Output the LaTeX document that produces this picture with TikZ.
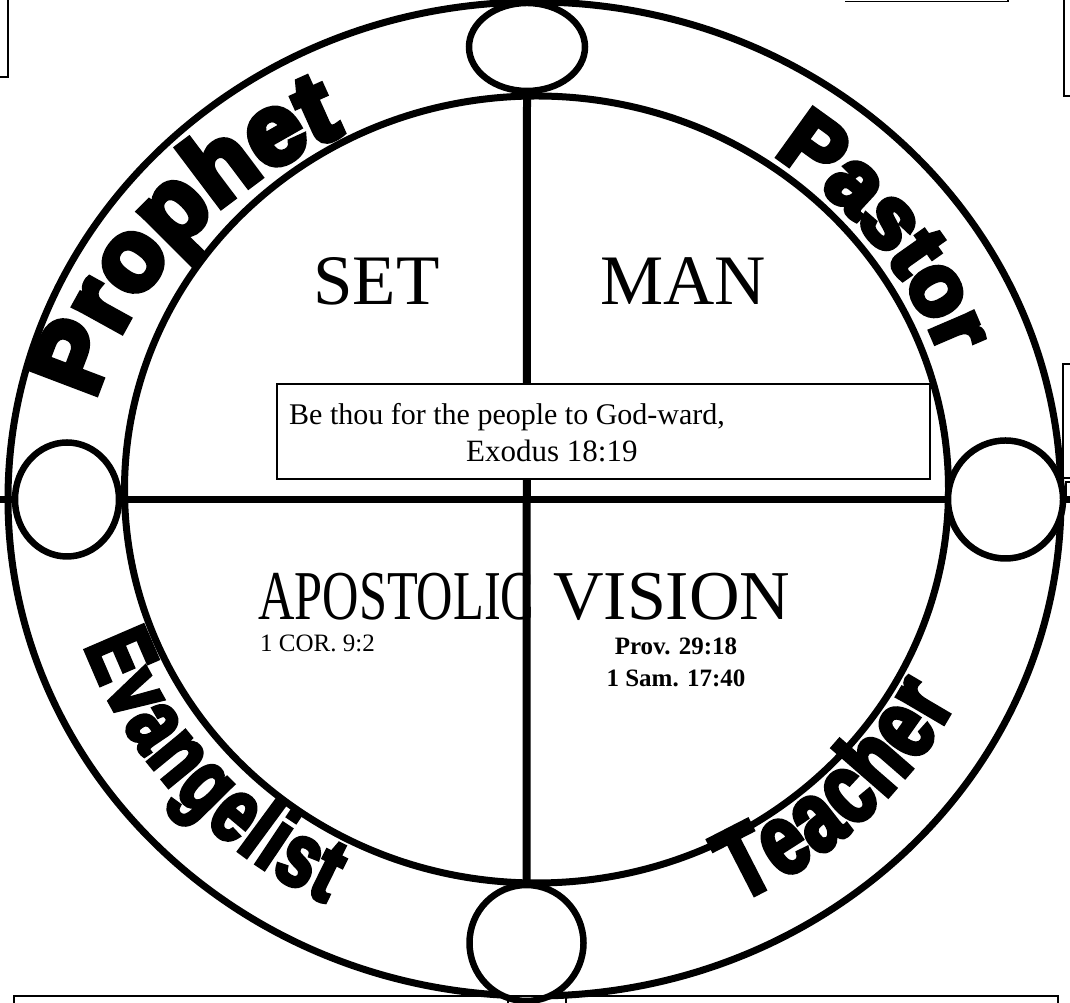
\documentclass[tikz,border=0pt]{standalone}
\usepackage{fontspec}
\setmainfont{Liberation Serif}
\newfontfamily\heavyfont[FakeBold=7]{Liberation Sans}
\newfontfamily\condfont[FakeBold=4.5,FakeStretch=0.74]{Liberation Sans}
\usetikzlibrary{decorations.text,shapes.geometric,calc}
\newcommand\fprophet{\heavyfont\bfseries\fontsize{100pt}{100pt}\selectfont}
\newcommand\fpastor{\heavyfont\bfseries\fontsize{86pt}{86pt}\selectfont}
\newcommand\fevang{\condfont\bfseries\fontsize{91pt}{91pt}\selectfont}
\newcommand\fteach{\condfont\bfseries\fontsize{101pt}{101pt}\selectfont}
\tikzset{
  ring/.style={line width=7pt},
  knob/.style={draw, ellipse, line width=6.5pt, fill=white, inner sep=0pt},
  frameline/.style={line width=1.6pt},
  lbl/.style={inner sep=0pt, anchor=base west},
  arctext/.style={decorate, decoration={text along path, text align=fit to path, text={#1}}},
}
\begin{document}
\begin{tikzpicture}[x=1pt,y=1pt]
\useasboundingbox[fill=white] (0,0) rectangle (1070,1003);
\coordinate (O) at (534.5,504);
\coordinate (I) at (536.5,513.5);
\coordinate (T) at (535,509);
\coordinate (hl) at (0,503.5);
\coordinate (hr) at (1070,503.5);
% cross bar
\draw[ring] (hl) -- (hr);
% rings
\draw[ring] (O) ellipse[x radius=526.5pt, y radius=497pt];
\draw[ring] (I) ellipse[x radius=412pt, y radius=393.5pt];
% knobs
\node[knob, minimum width=116pt, minimum height=88pt] (ctop) at (527,956) {};
\node[knob, minimum width=114pt, minimum height=116pt] (cbot) at (526.5,60) {};
\node[knob, minimum width=104pt, minimum height=114pt] (cleft) at (67,503.5) {};
\node[knob, minimum width=115pt, minimum height=118pt] (cright) at (1005.5,503.5) {};
\draw[line width=8pt] (ctop.south) -- (cbot.north);
% box
\node[draw, fill=white, frameline, minimum width=653pt, minimum height=95pt, inner sep=0pt] (box) at (603.5,571.5) {};
\node[lbl, font=\fontsize{30pt}{36pt}\selectfont] (l1) at (289,578) {Be thou for the people to God-ward,};
\node[lbl, font=\fontsize{31pt}{36pt}\selectfont] (l2) at (466,541.5) {Exodus 18:19};
% quadrant words
\node[lbl, font=\fontsize{71pt}{71pt}\selectfont] (set) at (313,698) {SET};
\node[lbl, font=\fontsize{71pt}{71pt}\selectfont] (man) at (600,698) {MAN};
\node[lbl, font=\fontsize{70pt}{70pt}\selectfont] (apo) at (258,383) {\scalebox{0.72}[1]{APOSTOLIC}};
\node[lbl, font=\fontsize{70pt}{70pt}\selectfont] (vis) at (553,383) {VISION};
\node[lbl, font=\fontsize{25pt}{30pt}\selectfont] (cor) at (260,351) {1 COR. 9:2};
\node[inner sep=0pt, anchor=base, font=\bfseries\fontsize{25pt}{30pt}\selectfont] (prov) at (676,348) {Prov. 29:18};
\node[inner sep=0pt, anchor=base, font=\bfseries\fontsize{25pt}{30pt}\selectfont] (sam) at (676,316) {1 Sam. 17:40};
% curved titles
\path[arctext={|\fprophet|Prophet}] ($(T)+(166.3:453pt and 398pt)$) arc[start angle=166.3, end angle=115.5, x radius=453pt, y radius=398pt];
\path[arctext={|\fpastor|Pastor}] ($(T)+(56.5:432pt and 407pt)$) arc[start angle=56.5, end angle=21.0, x radius=432pt, y radius=407pt];
\path[arctext={|\fevang|Evangelist}] ($(T)+(199.5:478pt and 455pt)$) arc[start angle=199.5, end angle=244.0, x radius=478pt, y radius=455pt];
\path[arctext={|\fteach|Teacher}] ($(T)+(295.5:474pt and 452pt)$) arc[start angle=295.5, end angle=332.5, x radius=474pt, y radius=452pt];
% cropped frames at the edges
\coordinate (a1) at (8,1003); \coordinate (a2) at (8,926); \coordinate (a3) at (0,926);
\draw[frameline] (a1) -- (a2) -- (a3);
\coordinate (b1) at (845,1001.5); \coordinate (b2) at (1008,1001.5); \coordinate (b3) at (1008,1003);
\draw[frameline] (b1) -- (b2) -- (b3);
\coordinate (c1) at (1070,907); \coordinate (c2) at (1064,907); \coordinate (c3) at (1064,1003);
\draw[frameline] (c1) -- (c2) -- (c3);
\coordinate (d1) at (1070,639); \coordinate (d2) at (1063,639); \coordinate (d3) at (1063,525); \coordinate (d4) at (1070,525);
\draw[frameline] (d1) -- (d2) -- (d3) -- (d4);
\coordinate (e1) at (1070,521); \coordinate (e2) at (1066,521); \coordinate (e3) at (1066,507);
\draw[frameline] (e1) -- (e2) -- (e3);
\coordinate (f1) at (14,0); \coordinate (f2) at (14,7); \coordinate (f3) at (1058,7); \coordinate (f4) at (1058,0);
\draw[frameline] (f1) -- (f2) -- (f3) -- (f4);
\coordinate (g1) at (508,7); \coordinate (g2) at (508,0); \coordinate (g3) at (566,7); \coordinate (g4) at (566,0);
\draw[frameline] (g1) -- (g2) (g3) -- (g4);
\end{tikzpicture}
\end{document}
